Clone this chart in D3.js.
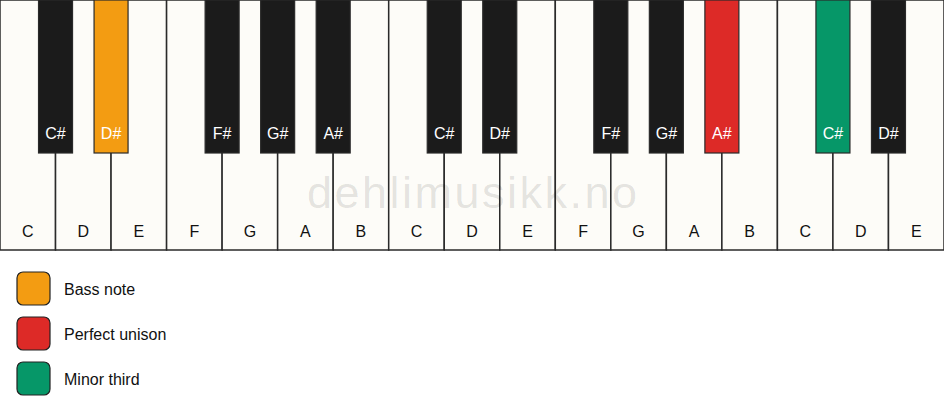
<!DOCTYPE html>
<html>
<head>
<meta charset="utf-8">
<script src="https://cdn.jsdelivr.net/npm/d3@7"></script>
<style>
  body { margin: 0; background: #fff; }
  svg { display: block; font-family: "Liberation Sans", Arial, sans-serif; }
</style>
</head>
<body>
<svg id="chart"></svg>
<script>
// white keys, left to right
const whiteKeys = ["C", "D", "E", "F", "G", "A", "B", "C", "D", "E", "F", "G", "A", "B", "C", "D", "E"];
// black keys: index of the white key they sit after
const blackAfter = [0, 1, 3, 4, 5, 7, 8, 10, 11, 12, 14, 15];
const blackLabels = ["C#", "D#", "F#", "G#", "A#", "C#", "D#", "F#", "G#", "A#", "C#", "D#"];
// highlighted black keys (by position in blackAfter) -> legend entry
const highlightKeys = [1, 9, 10];
const legendLabels = ["Bass note", "Perfect unison", "Minor third"];
const legendColors = ["#f39c12", "#dd2a27", "#069768"];

const width = 944;
const height = 417;
const kbHeight = 250;
const blackHeight = 153;
const blackWidth = 34;

const svg = d3.select("#chart").attr("width", width).attr("height", height);

const x = d3.scaleBand()
    .domain(d3.range(whiteKeys.length))
    .range([0, width]);

const color = d3.scaleOrdinal()
    .domain(highlightKeys)
    .range(legendColors);

// White keys
svg.append("g")
    .selectAll("rect")
    .data(whiteKeys)
    .join("rect")
    .attr("x", (d, i) => x(i))
    .attr("y", 0)
    .attr("width", x.bandwidth())
    .attr("height", kbHeight)
    .attr("fill", "#fdfcf8")
    .attr("stroke", "#2a2a2a")
    .attr("stroke-width", 1.5);

// Watermark
svg.append("text")
    .attr("x", 307)
    .attr("y", 208)
    .attr("font-size", 45)
    .attr("textLength", 330)
    .attr("lengthAdjust", "spacing")
    .attr("fill", "#000")
    .attr("fill-opacity", 0.11)
    .text("dehlimusikk.no");

// White key labels
svg.append("g")
    .selectAll("text")
    .data(whiteKeys)
    .join("text")
    .attr("x", (d, i) => x(i) + x.bandwidth() / 2)
    .attr("y", 237)
    .attr("text-anchor", "middle")
    .attr("font-size", 16)
    .attr("fill", "#111")
    .text(d => d);

// Black keys
const black = svg.append("g")
    .selectAll("g")
    .data(blackAfter.map((w, i) => ({ w, label: blackLabels[i], i })))
    .join("g")
    .attr("transform", d => `translate(${x(d.w + 1)},0)`);

black.append("rect")
    .attr("x", -blackWidth / 2)
    .attr("y", 0)
    .attr("width", blackWidth)
    .attr("height", blackHeight)
    .attr("fill", d => highlightKeys.includes(d.i) ? color(d.i) : "#1b1b1b")
    .attr("stroke", "#2a2a2a")
    .attr("stroke-width", 1.2);

black.append("text")
    .attr("y", 139)
    .attr("text-anchor", "middle")
    .attr("font-size", 16)
    .attr("fill", "#fff")
    .text(d => d.label);

// Legend
const legend = svg.append("g")
    .selectAll("g")
    .data(legendLabels)
    .join("g")
    .attr("transform", (d, i) => `translate(17,${272 + i * 45})`);

legend.append("rect")
    .attr("width", 33)
    .attr("height", 33)
    .attr("rx", 6)
    .attr("fill", (d, i) => legendColors[i])
    .attr("stroke", "#222")
    .attr("stroke-width", 1.2);

legend.append("text")
    .attr("x", 47)
    .attr("y", 23)
    .attr("font-size", 16)
    .attr("fill", "#111")
    .text(d => d);
</script>
</body>
</html>
